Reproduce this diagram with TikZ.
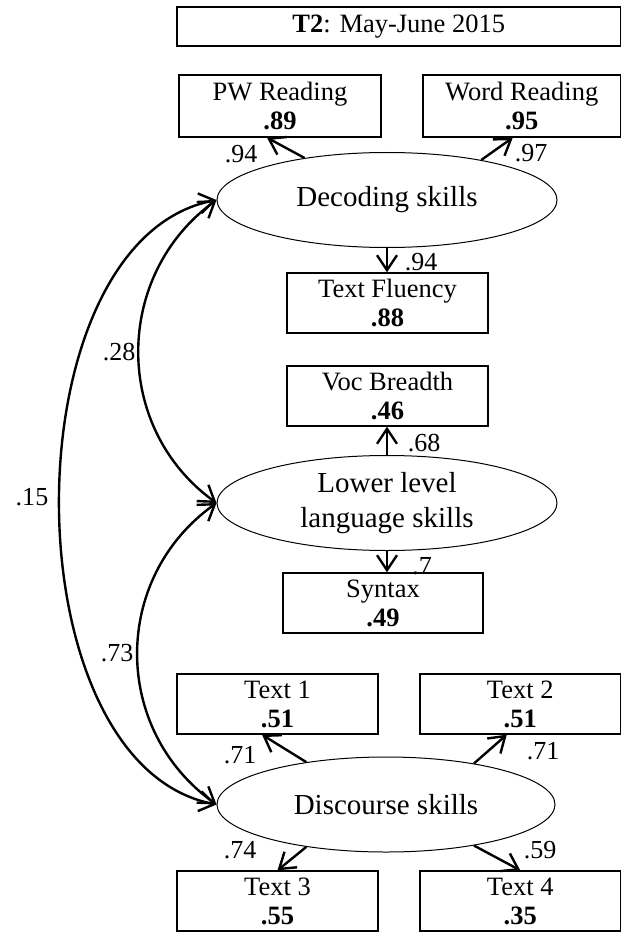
\documentclass[tikz,border=0pt]{standalone}
\usepackage{fontspec}
\setmainfont{Liberation Serif}
\usetikzlibrary{arrows.meta,shapes.geometric}

\begin{document}
\begin{tikzpicture}[x=1pt,y=-1pt,
  box/.style={draw,line width=1.3pt,inner sep=0pt,minimum width=201pt,minimum height=60pt,align=center,font=\fontsize{26.5}{29}\selectfont},
  latent/.style={draw,ellipse,line width=1pt,inner sep=0pt,minimum width=340pt,minimum height=95pt,align=center,font=\fontsize{29}{35}\selectfont},
  load/.style={line width=2.4pt,-{Straight Barb[length=15pt,width=20pt]}},
  corr/.style={line width=2.4pt,{Straight Barb[length=15pt,width=20pt]}-{Straight Barb[length=15pt,width=20pt]}},
  coef/.style={inner sep=0pt,font=\fontsize{26}{28}\selectfont}]
\useasboundingbox (0,0) rectangle (622,933);
\node[box,minimum width=443.5pt,minimum height=39pt] at (398.75,26.5) (ttl) {\textbf{T2}: May-June 2015};
\node[box,minimum width=202pt,minimum height=62pt] at (280,106) (pw) {PW Reading\\\textbf{.89}};
\node[box,minimum width=197.5pt,minimum height=62pt] at (521.75,106) (wr) {Word Reading\\\textbf{.95}};
\node[latent] at (387,200) (dec) {Decoding skills};
\node[box] at (387.5,303) (flu) {Text Fluency\\\textbf{.88}};
\node[box] at (387.5,396) (voc) {Voc Breadth\\\textbf{.46}};
\node[latent] at (387,503) (low) {Lower level\\language skills};
\node[box,minimum width=200pt] at (383,603) (syn) {Syntax\\\textbf{.49}};
\node[box] at (277.5,704) (t1) {Text 1\\\textbf{.51}};
\node[box,minimum width=200.5pt] at (520.25,704) (t2) {Text 2\\\textbf{.51}};
\node[latent,minimum width=338pt] at (386,804.5) (dis) {Discourse skills};
\node[box] at (277.5,901) (t3) {Text 3\\\textbf{.55}};
\node[box,minimum width=200.5pt] at (520.25,901) (t4) {Text 4\\\textbf{.35}};
% loadings
\draw[load] (dec.153) -- ([xshift=-13pt]pw.south);
\draw[load] (dec.23) -- ([xshift=-9pt]wr.south);
\draw[load] (dec.south) -- (dec.south |- flu.north);
\draw[load] (low.north) -- (low.north |- voc.south);
\draw[load] (low.south) -- (low.south |- syn.north);
\draw[load] (dis.152) -- ([xshift=-15.5pt]t1.south);
\draw[load] (dis.25) -- ([xshift=-13.5pt]t2.south);
\draw[load] (dis.208) -- (t3.north);
\draw[load] (dis.-25) -- (t4.north);
% correlations
\draw[corr] (dec.west) .. controls +(-209,40) and +(-209,-40) .. (dis.west);
\draw[corr] (dec.west) .. controls +(-103,75) and +(-104,-75) .. (low.west);
\draw[corr] (low.west) .. controls +(-105,75) and +(-105,-75) .. (dis.west);
\node[coef] at (241,154) (c1) {.94};
\node[coef] at (531,153) (c2) {.97};
\node[coef] at (421,262) (c3) {.94};
\node[coef] at (424,443) (c4) {.68};
\node[coef] at (422,566) (c5) {.7};
\node[coef] at (240,755) (c6) {.71};
\node[coef] at (543,751) (c7) {.71};
\node[coef] at (240,850) (c8) {.74};
\node[coef] at (540,850) (c9) {.59};
\node[coef] at (119,352) (r1) {.28};
\node[coef] at (32,497) (r2) {.15};
\node[coef] at (117,653) (r3) {.73};
\end{tikzpicture}
\end{document}
